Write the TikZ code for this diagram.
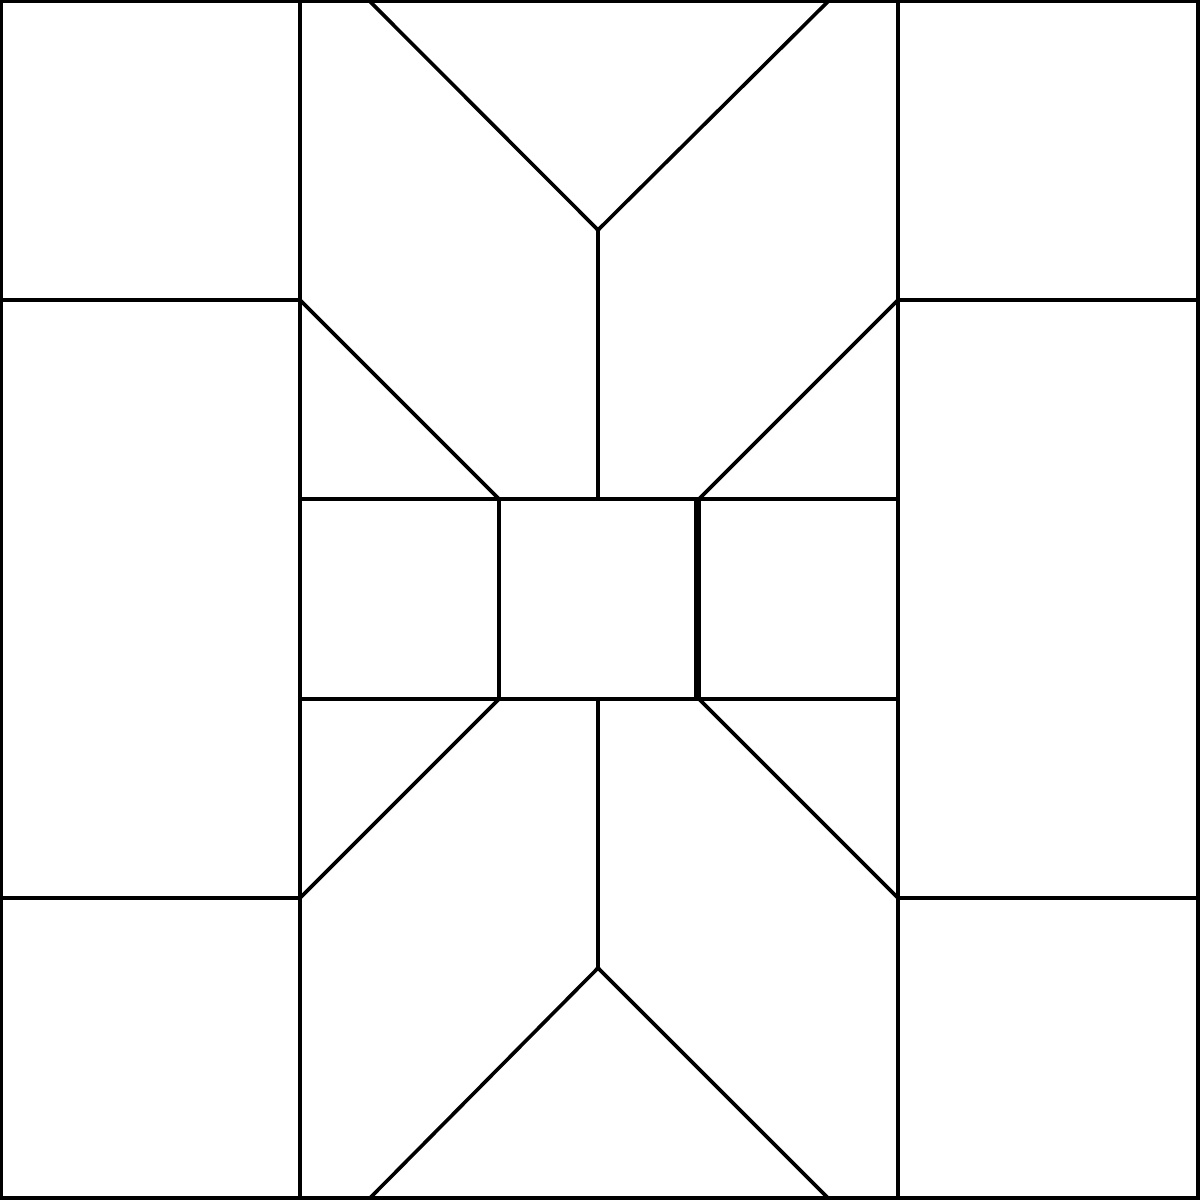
\documentclass[tikz,border=0pt]{standalone}
\tikzset{seam/.style={line width=0.036cm, line cap=rect}}
\begin{document}
\begin{tikzpicture}[x=0.01cm,y=-0.01cm]
      \useasboundingbox (0,0) rectangle (1200,1200);
      \path
        (1.5,1.5) coordinate (nw)
        (1198,1.5) coordinate (ne)
        (1198,1198) coordinate (se)
        (1.5,1198) coordinate (sw)
        (300,1.5) coordinate (c1t)
        (898,1.5) coordinate (c2t)
        (300,1198) coordinate (c1b)
        (898,1198) coordinate (c2b)
        (1.5,300) coordinate (l1)
        (1.5,898) coordinate (l2)
        (1198,300) coordinate (r1)
        (1198,898) coordinate (r2)
        (300,300) coordinate (a1)
        (898,300) coordinate (a2)
        (300,898) coordinate (a3)
        (898,898) coordinate (a4)
        (300,499) coordinate (m1)
        (898,499) coordinate (m2)
        (300,699) coordinate (m3)
        (898,699) coordinate (m4)
        (499,499) coordinate (q1)
        (499,699) coordinate (q2)
        (696,499) coordinate (q3)
        (696,699) coordinate (q4)
        (699,499) coordinate (q5)
        (699,699) coordinate (q6)
        (370,1.5) coordinate (t1)
        (828,1.5) coordinate (t2)
        (598,230) coordinate (tv)
        (598,499) coordinate (tm)
        (370,1198) coordinate (b1)
        (828,1198) coordinate (b2)
        (598,968) coordinate (bv)
        (598,699) coordinate (bm);
      \begin{scope}[seam]
        % frame and columns
        \draw (nw) -- (ne) -- (se) -- (sw) -- cycle;
        \draw (c1t) to (c1b);
        \draw (c2t) to (c2b);
        \draw (l1) to (a1);
        \draw (l2) to (a3);
        \draw (a2) to (r1);
        \draw (a4) to (r2);
        % middle band
        \draw (m1) to (m2);
        \draw (m3) to (m4);
        \draw (q1) to (q2);
        \draw (q3) to (q4);
        \draw (q5) to (q6);
        % corners of the centre
        \draw (a1) to (q1);
        \draw (a2) to (q5);
        \draw (a3) to (q2);
        \draw (a4) to (q6);
        % top and bottom forks
        \draw (t1) to (tv);
        \draw (t2) to (tv);
        \draw (tv) to (tm);
        \draw (b1) to (bv);
        \draw (b2) to (bv);
        \draw (bv) to (bm);
      \end{scope}
    \end{tikzpicture}
\end{document}
